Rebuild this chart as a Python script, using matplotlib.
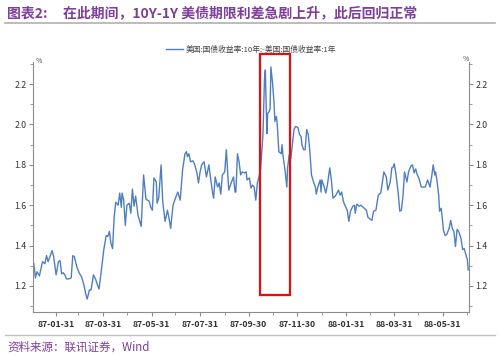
import matplotlib
matplotlib.use("Agg")
import matplotlib.pyplot as plt
import matplotlib.dates as mdates
from matplotlib.patches import Rectangle
import pandas as pd

plt.rcParams['font.family'] = ['Noto Sans CJK SC', 'DejaVu Sans']

# 10Y - 1Y spread (%), days counted from 1986-12-31
base_date = pd.Timestamp('1986-12-31')
day_offset = [3, 5, 7, 10, 14, 17, 19, 21, 26, 28, 31, 34, 36, 38, 40, 42, 44, 47, 50, 52,
              54, 57, 60, 63, 66, 68, 70, 73, 75, 78, 81, 83, 85, 88, 91, 94, 96, 98, 100, 102,
              104, 106, 109, 111, 113, 114, 116, 118, 120, 123, 125, 127, 129, 131, 134, 138, 141, 144, 148, 150,
              152, 154, 157, 158, 160, 163, 165, 168, 171, 173, 175, 178, 181, 184, 187, 190, 193, 195, 196, 198,
              200, 203, 205, 208, 210, 212, 214, 217, 220, 223, 226, 228, 229, 231, 234, 236, 238, 240, 243, 245,
              248, 251, 254, 256, 257, 259, 261, 263, 265, 268, 270, 271, 274, 276, 278, 280, 282, 284, 285, 288,
              291, 293, 294, 296, 297, 299, 300, 301, 303, 305, 306, 308, 309, 311, 314, 315, 316, 319, 321, 322,
              324, 326, 328, 330, 332, 335, 337, 339, 340, 342, 344, 346, 348, 350, 352, 355, 357, 358, 360, 363,
              364, 365, 368, 370, 372, 375, 377, 379, 382, 386, 388, 390, 392, 394, 397, 399, 401, 404, 406, 407,
              409, 412, 414, 417, 421, 423, 426, 428, 430, 433, 436, 439, 441, 443, 446, 448, 451, 453, 455, 456,
              458, 461, 463, 465, 467, 469, 472, 474, 477, 479, 481, 483, 485, 487, 490, 492, 495, 498, 501, 503,
              505, 507, 508, 510, 512, 513, 515, 516, 518, 520, 522, 525, 527, 529, 531, 533, 535, 537, 540, 542,
              544, 546, 548, 549]
spread = [1.31, 1.24, 1.27, 1.25, 1.32, 1.31, 1.35, 1.32, 1.375, 1.345, 1.255, 1.32, 1.325, 1.26, 1.265, 1.255, 1.235, 1.235, 1.24, 1.35,
          1.345, 1.295, 1.265, 1.245, 1.205, 1.165, 1.135, 1.18, 1.18, 1.255, 1.23, 1.205, 1.185, 1.28, 1.38, 1.45, 1.445, 1.47, 1.41, 1.385,
          1.54, 1.615, 1.60, 1.66, 1.59, 1.66, 1.625, 1.50, 1.60, 1.61, 1.56, 1.68, 1.595, 1.645, 1.55, 1.495, 1.75, 1.63, 1.62, 1.59,
          1.575, 1.735, 1.715, 1.61, 1.635, 1.80, 1.62, 1.52, 1.575, 1.535, 1.485, 1.60, 1.635, 1.665, 1.625, 1.775, 1.855, 1.865, 1.84, 1.855,
          1.815, 1.82, 1.805, 1.76, 1.71, 1.765, 1.80, 1.815, 1.74, 1.80, 1.71, 1.655, 1.635, 1.74, 1.69, 1.71, 1.655, 1.75, 1.765, 1.875,
          1.675, 1.71, 1.74, 1.665, 1.665, 1.855, 1.815, 1.75, 1.765, 1.76, 1.765, 1.725, 1.735, 1.685, 1.70, 1.69, 1.625, 1.71, 1.725, 1.775,
          1.95, 2.23, 2.27, 1.955, 2.055, 2.065, 2.08, 2.285, 2.21, 2.105, 2.015, 2.04, 2.00, 1.865, 1.855, 1.90, 1.855, 1.765, 1.69, 1.785,
          1.85, 1.83, 1.90, 1.975, 1.99, 1.985, 1.95, 1.94, 1.90, 1.875, 1.875, 1.975, 1.95, 1.865, 1.75, 1.71, 1.69, 1.655, 1.69, 1.725,
          1.665, 1.725, 1.69, 1.66, 1.70, 1.785, 1.725, 1.635, 1.645, 1.675, 1.65, 1.665, 1.62, 1.60, 1.575, 1.52, 1.57, 1.595, 1.60, 1.56,
          1.605, 1.595, 1.60, 1.59, 1.575, 1.54, 1.53, 1.525, 1.57, 1.575, 1.65, 1.66, 1.71, 1.765, 1.74, 1.675, 1.715, 1.785, 1.79, 1.805,
          1.76, 1.66, 1.57, 1.575, 1.645, 1.765, 1.715, 1.765, 1.795, 1.80, 1.76, 1.78, 1.75, 1.735, 1.69, 1.69, 1.69, 1.725, 1.69, 1.74,
          1.80, 1.75, 1.765, 1.715, 1.645, 1.57, 1.585, 1.55, 1.475, 1.45, 1.455, 1.485, 1.525, 1.485, 1.47, 1.395, 1.48, 1.47, 1.435, 1.38,
          1.385, 1.355, 1.33, 1.28]

title_tag = '图表2:'
title_text = '在此期间，10Y-1Y 美债期限利差急剧上升，此后回归正常'
series_name = '美国:国债收益率:10年:-美国:国债收益率:1年'
source_text = '资料来源：联讯证券，Wind'

dates = base_date + pd.to_timedelta(day_offset, unit='D')

purple = '#7E3F98'
grey = '#8C8C8C'

fig = plt.figure(figsize=(5, 3.59), dpi=100)
ax = fig.add_axes([0.066, 0.131, 0.872, 0.696])
ax.plot(dates, spread, color='#4F7FC0', lw=1.0, label=series_name)

ax.set_xlim(base_date + pd.Timedelta(days=2), base_date + pd.Timedelta(days=550))
ax.set_ylim(1.071, 2.309)
ax.set_yticks([1.2, 1.4, 1.6, 1.8, 2.0, 2.2])
ax.set_yticks([1.1, 1.3, 1.5, 1.7, 1.9, 2.1, 2.3], minor=True)
ax.yaxis.set_major_formatter(matplotlib.ticker.FormatStrFormatter('%.1f'))

ax.xaxis.set_major_locator(mdates.MonthLocator(bymonth=[1, 3, 5, 7, 9, 11], bymonthday=-1))
ax.xaxis.set_minor_locator(mdates.MonthLocator(bymonthday=-1))
ax.xaxis.set_major_formatter(mdates.DateFormatter('%y-%m-%d'))

ax.tick_params(axis='both', which='both', direction='out', color=grey, labelsize=6.3, labelcolor='#333333')
ax.tick_params(axis='both', which='major', length=3)
ax.tick_params(axis='both', which='minor', length=2)
ax.tick_params(axis='y', which='both', right=True, labelright=True, pad=1.5)
ax.tick_params(axis='x', pad=3)
for lbl in ax.get_xticklabels():
    lbl.set_fontweight('bold')

ax.spines['top'].set_visible(False)
for s in ['left', 'right', 'bottom']:
    ax.spines[s].set_color(grey)
    ax.spines[s].set_linewidth(0.8)

ax.text(0.006, 0.99, '%', transform=ax.transAxes, fontsize=5, color='#555555', va='bottom')
ax.text(0.985, 0.995, '%', transform=ax.transAxes, fontsize=5, color='#555555', va='bottom')

# highlight box around the spike
box_x0 = base_date + pd.Timedelta(days=287)
box_x1 = base_date + pd.Timedelta(days=325)
ax.add_patch(Rectangle((mdates.date2num(box_x0), 1.155),
                       mdates.date2num(box_x1) - mdates.date2num(box_x0), 2.349 - 1.155,
                       fill=False, edgecolor='#E01010', lw=1.6, clip_on=False, zorder=5))

leg = ax.legend(loc='lower center', bbox_to_anchor=(0.5, 1.02), frameon=False,
                fontsize=5.6, handlelength=2.2, handletextpad=0.4, borderaxespad=0)
for t in leg.get_texts():
    t.set_color('#444444')

fig.text(0.014, 0.962, title_tag, fontsize=10, fontweight='bold', color=purple, va='center')
fig.text(0.126, 0.962, title_text, fontsize=10, fontweight='bold', color=purple, va='center')
fig.add_artist(plt.Line2D([0.01, 0.99], [0.936, 0.936], color='#B0B0B0', lw=1.2))
fig.add_artist(plt.Line2D([0.01, 0.99], [0.067, 0.067], color='#C0C0C0', lw=1.0))
fig.text(0.014, 0.033, source_text, fontsize=8.3, style='italic', color=purple, va='center')

fig.savefig('out.png', dpi=100)
